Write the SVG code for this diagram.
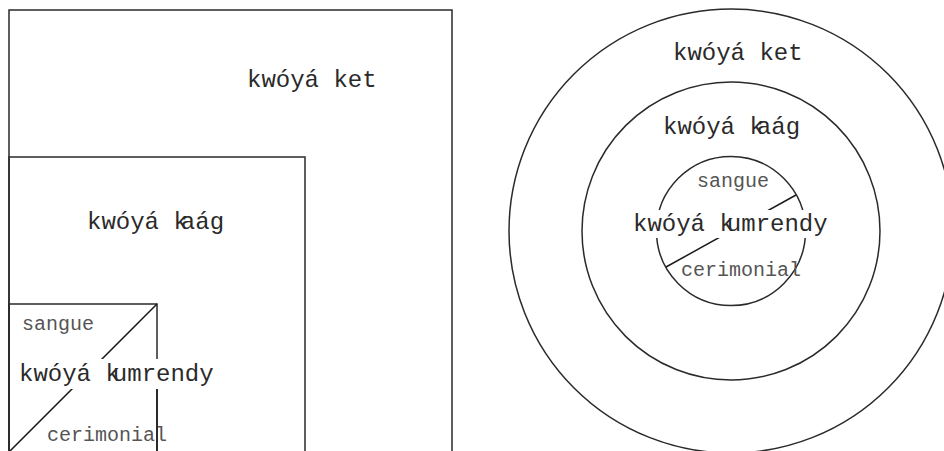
<svg xmlns="http://www.w3.org/2000/svg" width="944" height="451" viewBox="0 0 944 451">
  <style>
    .shape { fill: none; stroke: #2a2a2a; stroke-width: 1.5; }
    .div { stroke: #1a1a1a; stroke-width: 1.5; }
    .big { font-family: "Liberation Mono", "DejaVu Sans Mono", monospace; font-size: 24px; fill: #2a2a2a; }
    .small { font-family: "Liberation Mono", "DejaVu Sans Mono", monospace; font-size: 20px; fill: #555; }
    .mask { fill: #fff; stroke: none; }
  </style>
  <rect x="0" y="0" width="944" height="451" fill="#fff"/>

  <!-- Left: nested squares -->
  <g id="sq-ket">
    <rect class="shape" x="9" y="10" width="443" height="443"/>
    <text class="big" x="247" y="87">kwóyá k<tspan dx="0">et</tspan></text>
  </g>
  <g id="sq-kaag">
    <rect class="shape" x="9" y="157" width="296" height="296"/>
    <text class="big" x="87" y="229">kwóyá k<tspan dx="-7">aág</tspan></text>
  </g>
  <g id="sq-kumrendy">
    <rect class="shape" x="9" y="304" width="148" height="148"/>
    <line class="div" x1="157" y1="304" x2="9" y2="452"/>
    <rect class="mask" x="14" y="359" width="208" height="30"/>
    <text class="big" x="19" y="381">kwóyá k<tspan dx="-7">umrendy</tspan></text>
    <text class="small" x="22" y="330">sangue</text>
    <text class="small" x="47" y="441">cerimonial</text>
    <line class="div" x1="157" y1="389" x2="157" y2="452"/>
  </g>

  <!-- Right: concentric circles -->
  <g id="ci-ket">
    <circle class="shape" cx="731" cy="231" r="222"/>
    <text class="big" x="673" y="60">kwóyá ket</text>
  </g>
  <g id="ci-kaag">
    <circle class="shape" cx="731" cy="231" r="149"/>
    <text class="big" x="663" y="134">kwóyá k<tspan dx="-7">aág</tspan></text>
  </g>
  <g id="ci-kumrendy">
    <circle class="shape" cx="731" cy="231" r="74.5"/>
    <g id="connectors">
      <line class="div" x1="796" y1="195" x2="666" y2="267"/>
    </g>
    <rect class="mask" x="630" y="210" width="202" height="28"/>
    <text class="big" x="633" y="231">kwóyá k<tspan dx="-7">umrendy</tspan></text>
    <text class="small" x="697" y="187">sangue</text>
    <text class="small" x="681" y="276">cerimonial</text>
  </g>
</svg>
